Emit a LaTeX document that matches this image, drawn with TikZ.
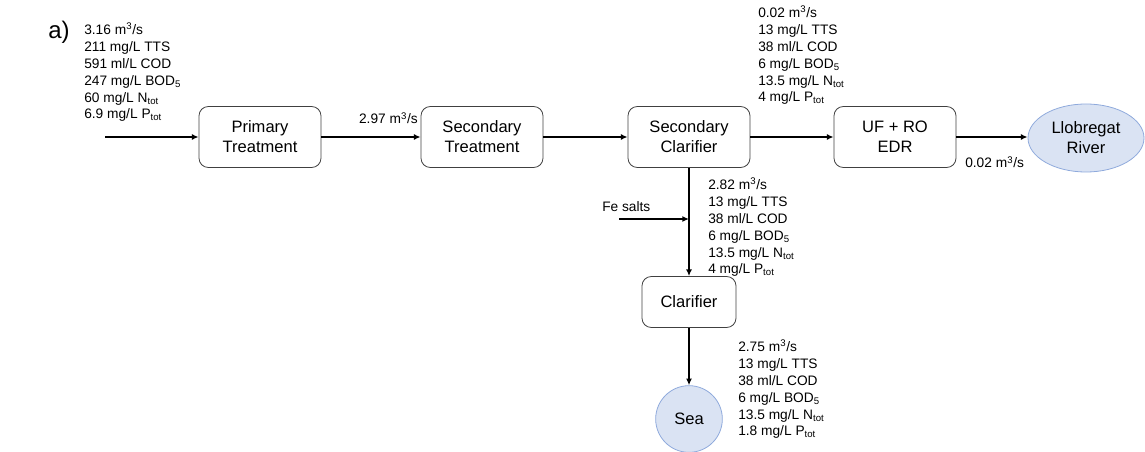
\documentclass[tikz,border=0pt]{standalone}
\usepackage{fontspec}
\setmainfont{Liberation Sans}
\usetikzlibrary{arrows.meta}
\usetikzlibrary{shapes.geometric}
\definecolor{waterfill}{RGB}{218,227,243}
\definecolor{waterline}{RGB}{143,170,220}
\definecolor{boxline}{RGB}{64,64,64}
\tikzset{unit/.style = {draw = boxline, line width = 0.6pt, rounded corners = 7pt, minimum width = 91.5pt, minimum height = 45.75pt, align = center, font = \fontsize{12.4}{15}\selectfont}}
\tikzset{water/.style = {draw = waterline, fill = waterfill, line width = 0.6pt, inner sep = 0, align = center, font = \fontsize{12.4}{15}\selectfont}}
\tikzset{flow/.style = {-{Latex[length = 5pt, width = 4.5pt]}, line width = 1pt}}
\tikzset{data/.style = {align = left, inner sep = 0, anchor = north west, font = \fontsize{10.3}{12.6}\selectfont}}
\tikzset{rate/.style = {inner sep = 0, font = \fontsize{10.3}{12.6}\selectfont}}

\begin{document}
\begin{tikzpicture}[x = 0.75pt, y = -0.75pt]
      \useasboundingbox (0, 0) rectangle (1145, 452);
      \node [font = \fontsize{18}{21}\selectfont] (tag) at (59, 32) {a)};

      \node [unit] (primary) at (260, 137) {Primary\\Treatment};
      \node [unit] (sectreat) at (482, 137) {Secondary\\Treatment};
      \node [unit] (secclar) at (689, 137) {Secondary\\Clarifier};
      \node [unit] (ufro) at (895, 137) {UF + RO\\EDR};
      \node [water, ellipse, minimum width = 87pt, minimum height = 51pt] (river) at (1086, 138) {Llobregat\\River};
      \node [unit, minimum width = 70.5pt, minimum height = 38.25pt] (clarifier) at (689, 302) {Clarifier};
      \node [water, circle, minimum size = 50pt] (sea) at (689, 419) {Sea};

      \coordinate (inlet) at (105, 137);
      \coordinate (fein) at (619, 219);

      \draw [flow] (inlet) -- (primary.west);
      \draw [flow] (primary.east) -- (sectreat.west);
      \draw [flow] (sectreat.east) -- (secclar.west);
      \draw [flow] (secclar.east) -- (ufro.west);
      \draw [flow] (ufro.east) -- (ufro.east -| river.west);
      \draw [flow] (secclar.south) -- (clarifier.north);
      \draw [flow] (fein) -- (fein -| secclar.south);
      \draw [flow] (clarifier.south) -- (sea.north);

      % stream data
      \node [data] (influent) at (84, 23) {3.16 m\textsuperscript{3}/s\\211 mg/L TTS\\591 ml/L COD\\247 mg/L BOD\textsubscript{5}\\60 mg/L N\textsubscript{tot}\\6.9 mg/L P\textsubscript{tot}};
      \node [data] (reuse) at (758, 6) {0.02 m\textsuperscript{3}/s\\13 mg/L TTS\\38 ml/L COD\\6 mg/L BOD\textsubscript{5}\\13.5 mg/L N\textsubscript{tot}\\4 mg/L P\textsubscript{tot}};
      \node [data] (tertiary) at (708, 178) {2.82 m\textsuperscript{3}/s\\13 mg/L TTS\\38 ml/L COD\\6 mg/L BOD\textsubscript{5}\\13.5 mg/L N\textsubscript{tot}\\4 mg/L P\textsubscript{tot}};
      \node [data] (outfall) at (738, 340) {2.75 m\textsuperscript{3}/s\\13 mg/L TTS\\38 ml/L COD\\6 mg/L BOD\textsubscript{5}\\13.5 mg/L N\textsubscript{tot}\\1.8 mg/L P\textsubscript{tot}};

      \node [rate, anchor = base east] (q297) at (418, 124) {2.97 m\textsuperscript{3}/s};
      \node [rate, anchor = base west] (q002) at (965, 168) {0.02 m\textsuperscript{3}/s};
      \node [rate, anchor = base west] (fesalts) at (602, 212) {Fe salts};
    \end{tikzpicture}
\end{document}
